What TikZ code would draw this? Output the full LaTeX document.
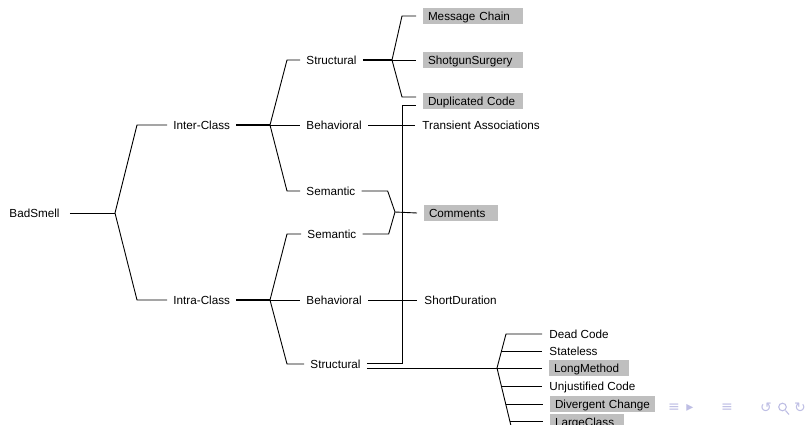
\documentclass[tikz,border=0pt]{standalone}
\usepackage{fontspec}
\setmainfont{Liberation Sans}
\newfontfamily\navfont{DejaVu Sans}
\definecolor{smellgray}{RGB}{191,191,191}
\definecolor{navblue}{RGB}{190,190,228}
\tikzstyle{cat}=[anchor=west, inner xsep=6pt, inner ysep=0pt, text height=8.4pt, text depth=0pt]
\tikzstyle{leaf}=[anchor=west, inner xsep=7pt, inner ysep=0pt, text height=8.4pt, text depth=0pt]
\tikzset{smell/.style={anchor=west, fill=smellgray, inner xsep=5pt, outer xsep=7pt, inner ysep=3.8pt,
    text height=8.4pt, text depth=0pt, align=left, text width=#1}}

\begin{document}
\begin{tikzpicture}[x=1pt, y=-1pt, line width=0.9pt, font=\fontsize{11.7}{14}\selectfont]
    \useasboundingbox (0,0) rectangle (807,425);
    \clip (0,0) rectangle (807,425);
    % categories
    \node[cat, inner xsep=10pt] (bad) at (-1,213) {BadSmell};
    \node[cat] (inter) at (167,125) {Inter-Class};
    \node[cat] (intra) at (167,300) {Intra-Class};
    \node[cat] (sti) at (300,60) {Structural};
    \node[cat] (bhi) at (300,125) {Behavioral};
    \node[cat] (smi) at (300,191) {Semantic};
    \node[cat] (sma) at (301,234) {Semantic};
    \node[cat] (bha) at (300,300) {Behavioral};
    \node[cat] (sta) at (304,364) {Structural};
    % smells
    \node[smell=90pt] (msg) at (416,16) {Message Chain};
    \node[smell=90pt] (shot) at (416,60) {ShotgunSurgery};
    \node[smell=90pt] (dup) at (416,101) {Duplicated Code};
    \node[leaf] (trans) at (415,125) {Transient Associations};
    \node[smell=64pt] (comm) at (417,213) {Comments};
    \node[leaf] (short) at (417,300) {ShortDuration};
    \node[leaf] (dead) at (542,334) {Dead Code};
    \node[leaf] (stless) at (542,351.5) {Stateless};
    \node[smell=70pt] (longm) at (542,368) {LongMethod};
    \node[leaf] (unjust) at (542,386.5) {Unjustified Code};
    \node[smell=95pt] (diverg) at (543,404) {Divergent Change};
    \node[smell=64pt] (large) at (543,422) {LargeClass};
    % forks
    \coordinate (f0) at (115,213);
    \coordinate (fInter) at (270,125);
    \coordinate (fIntra) at (270,300);
    \coordinate (fStr) at (392,60);
    \coordinate (fSem) at (395,212);
    \coordinate (fLeaf) at (497,368);
    \coordinate (spineTop) at ([xshift=-36pt]dead.west);
    \coordinate (spineBot) at (512,430);

    \draw (bad.east) -- (f0);
    \draw (inter.west) -- ++(-30,0) -- (f0) -- ([xshift=-30pt]intra.west) -- (intra.west);
    \draw[line width=1.2pt] (inter.east) -- (fInter);
    \draw[line width=1.2pt] (intra.east) -- (fIntra);
    \draw (sti.west) -- ++(-13,0) -- (fInter) -- ([xshift=-13pt]smi.west) -- (smi.west);
    \draw (fInter) -- (bhi.west);
    \draw (sma.west) -- ++(-14,0) -- (fIntra) -- ([xshift=-17pt]sta.west) -- (sta.west);
    \draw (fIntra) -- (bha.west);

    \draw[line width=1.3pt] (sti.east) -- (fStr);
    \draw (msg.west) -- ++(-14,0) -- (fStr) -- ([xshift=-14pt,yshift=4pt]dup.west) -- ([yshift=4pt]dup.west);
    \draw (fStr) -- (shot.west);
    \draw ([yshift=1pt]sta.east) -| ([xshift=-14pt,yshift=-4pt]dup.west) -- ([yshift=-4pt]dup.west);
    \draw (bhi.east) -- (trans.west);

    \draw (smi.east) -- ++(26,0) -- (fSem) -- ([xshift=26pt]sma.east) -- (sma.east);
    \draw (fSem) -- (comm.west);
    \draw (bha.east) -- (short.west);

    \draw ([yshift=-4pt]sta.east) -- (fLeaf);
    \draw (dead.west) -- (spineTop) -- (fLeaf) -- (spineBot);
    \draw (fLeaf) -- (longm.west);
    \path (fLeaf) -- (spineTop) coordinate[pos=0.485] (bStless);
    \path (fLeaf) -- (spineBot) coordinate[pos=0.298] (bUnjust)
        coordinate[pos=0.58] (bDiverg) coordinate[pos=0.87] (bLarge);
    \draw (bStless) -- (bStless -| stless.west);
    \draw (bUnjust) -- (bUnjust -| unjust.west);
    \draw (bDiverg) -- (bDiverg -| diverg.west);
    \draw (bLarge) -- (bLarge -| large.west);

    % navigation symbols
    \begin{scope}[navblue, font=\navfont\fontsize{14}{14}\selectfont, inner sep=0pt]
        \node (navframe) at (674,408) {≡};
        \node (navnext) at (690,408) {▸};
        \node (navsec) at (727,408) {≡};
        \node (navback) at (766,408) {↺};
        \node (navfwd) at (800,408) {↻};
        \draw[line width=1.1pt] (782.5,407) circle (3.8);
        \draw[line width=1.1pt] (785.5,410.5) -- (789,414.5);
    \end{scope}
\end{tikzpicture}
\end{document}
